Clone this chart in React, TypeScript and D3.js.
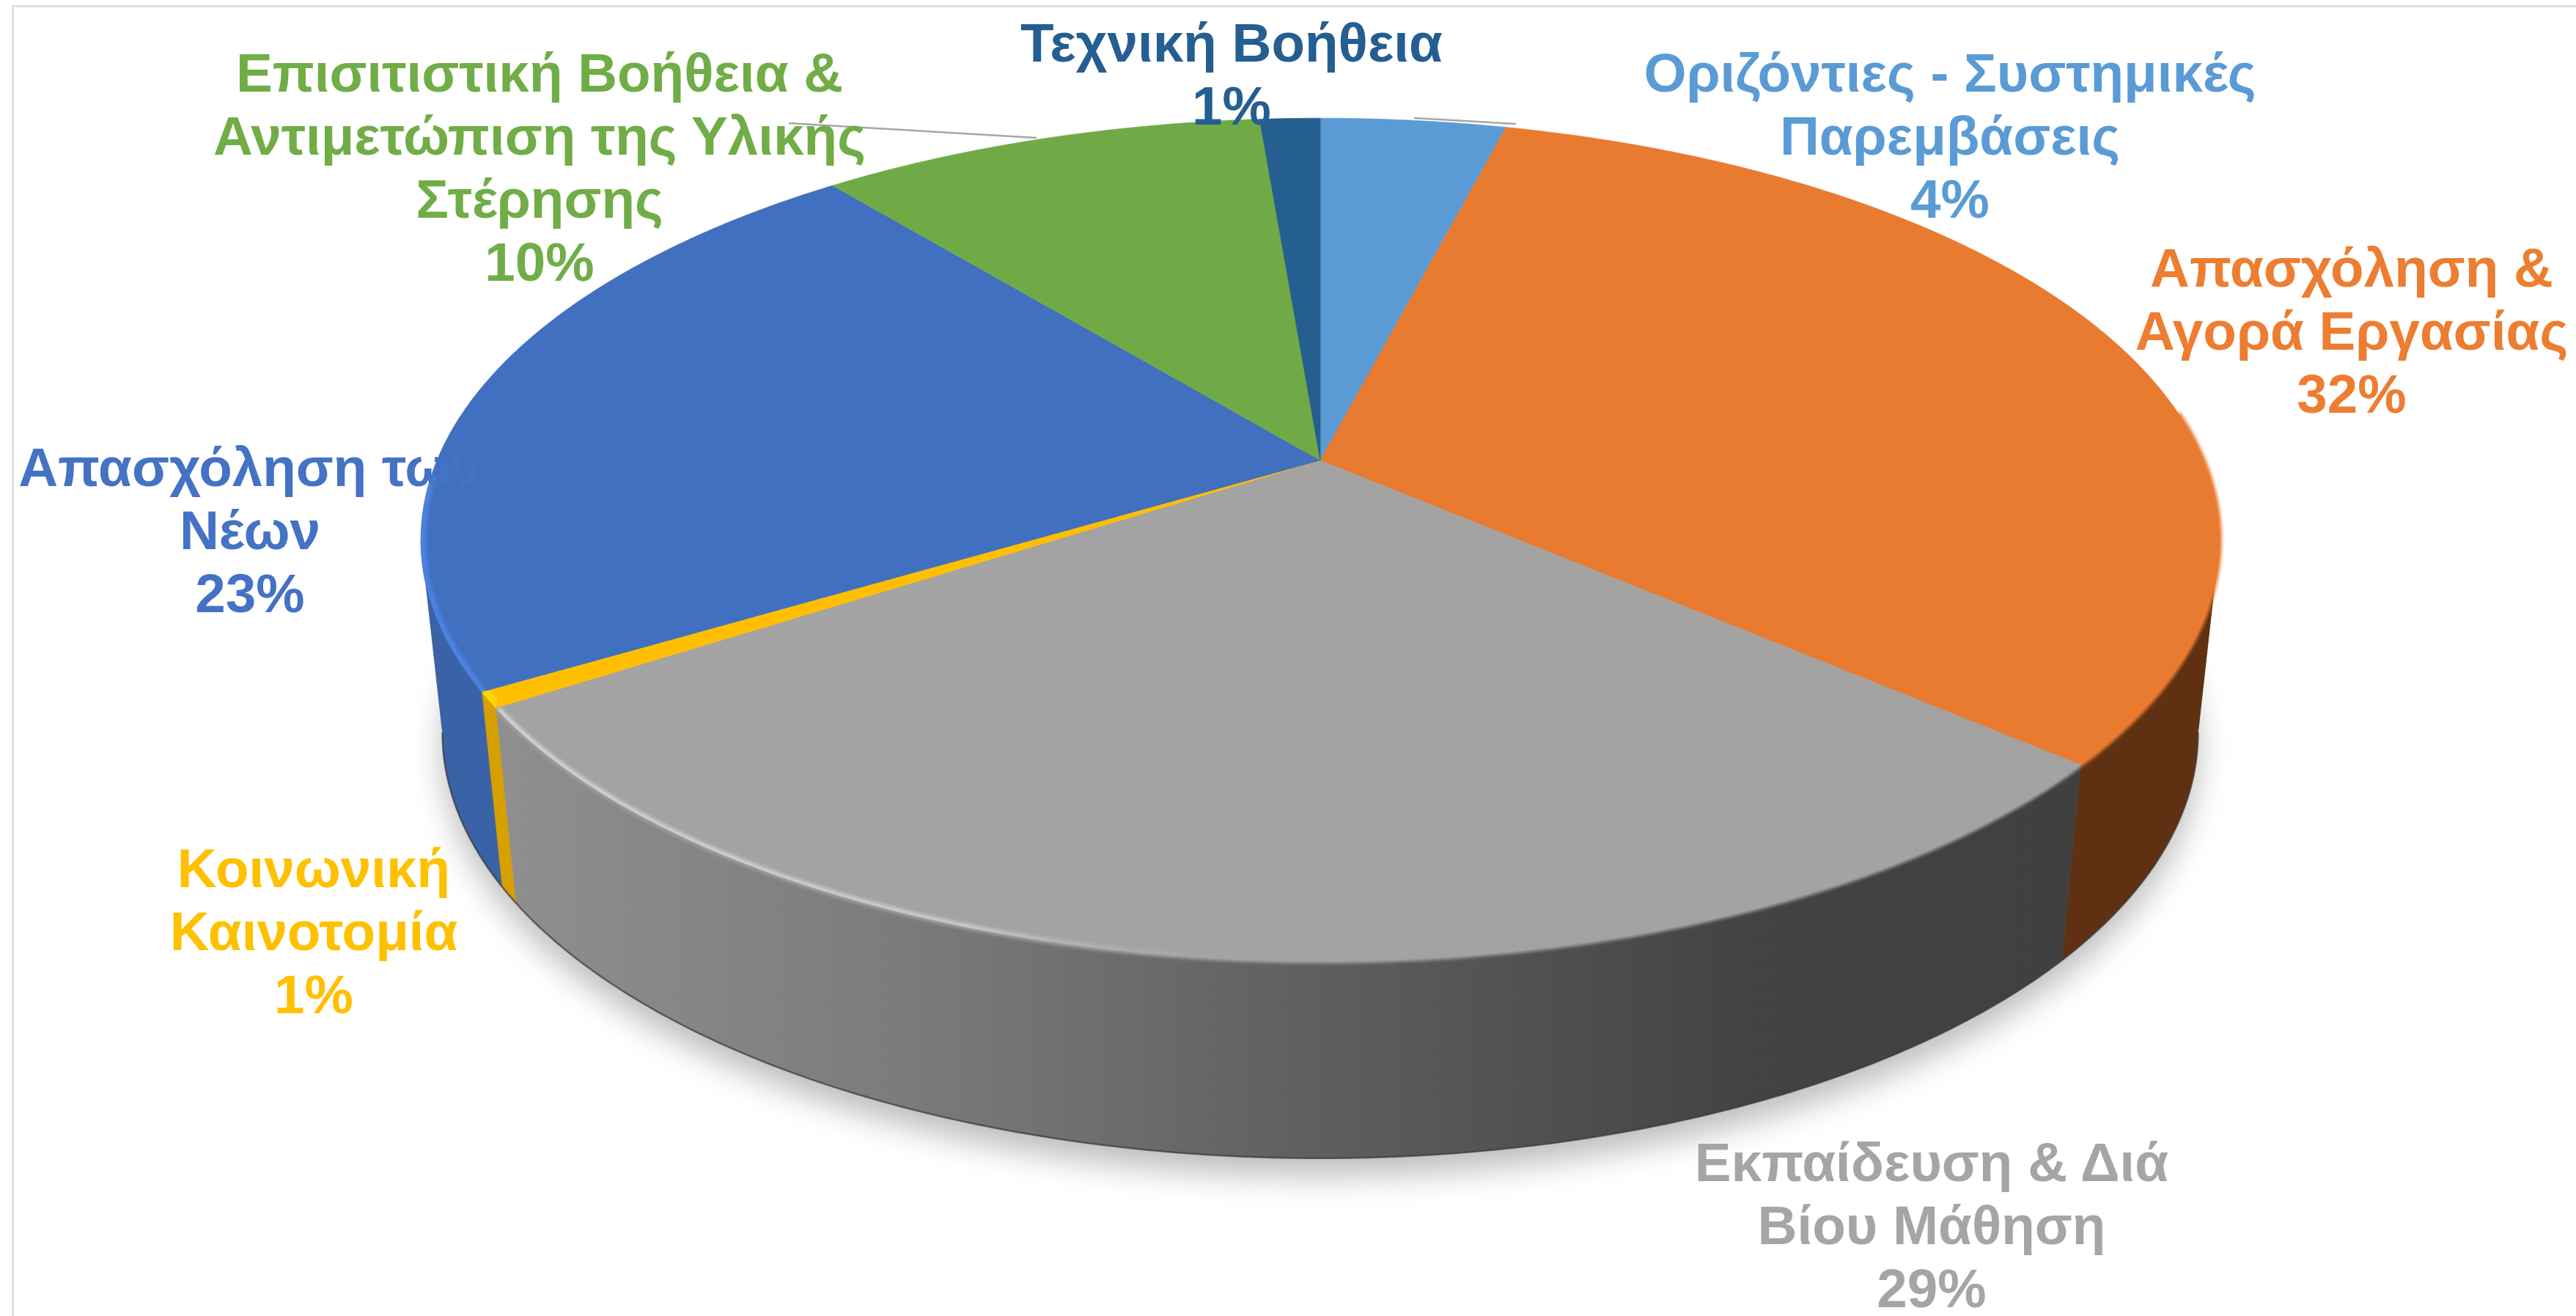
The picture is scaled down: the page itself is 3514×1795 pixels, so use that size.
import React from "react";
import * as d3 from "d3";

const W = 3514;
const H = 1795;

const categories = [
  ["Οριζόντιες - Συστημικές", "Παρεμβάσεις"],
  ["Απασχόληση &", "Αγορά Εργασίας"],
  ["Εκπαίδευση & Διά", "Βίου Μάθηση"],
  ["Κοινωνική", "Καινοτομία"],
  ["Απασχόληση των", "Νέων"],
  ["Επισιτιστική Βοήθεια &", "Αντιμετώπιση της Υλικής", "Στέρησης"],
  ["Τεχνική Βοήθεια"],
];
const values = [4.0, 32.4, 29.4, 0.6, 22.7, 9.6, 1.3];
const shownPercents = ["4%", "32%", "29%", "1%", "23%", "10%", "1%"];
const topColors = ["#5B9BD5", "#E97B31", "#A3A3A3", "#FFBF00", "#4070BF", "#70AA47", "#255E91"];
const textColors = ["#5B9BD5", "#ED7D31", "#A5A5A5", "#FFC000", "#4472C4", "#70AD47", "#255E91"];
const wallColors = ["#5B9BD5", "#5F3112", "url(#grayWall)", "#D6A000", "#3A62A6", "#70AD47", "#255E91"];
const labelAnchors: [number, number][] = [
  [2660, 125],
  [3208, 391],
  [2635, 1611],
  [428, 1210],
  [341, 663],
  [736, 125],
  [1680, 84],
];

// Perspective of the pie plane
const CX = 1801;
const CY = 628;
const A = 1205;
const B = 554.6;
const K = 0.188;
const project = (theta: number): [number, number] => {
  const u = Math.sin(theta);
  const v = -Math.cos(theta);
  const w = 1 - K * v;
  return [CX + (A * u) / w, CY + (B * v) / w];
};
const lower = ([x, y]: [number, number]): [number, number] => [
  CX + (x - CX) * 0.976,
  CY + (y - CY) * 1.01 + 262,
];

const line = d3.line<[number, number]>().x((d) => d[0]).y((d) => d[1]);
const arcPoints = (a0: number, a1: number) => {
  const n = Math.max(2, Math.ceil(Math.abs(a1 - a0) / 0.01));
  return d3.range(n + 1).map((i) => project(a0 + ((a1 - a0) * i) / n));
};

const arcs = d3.pie<number>().sort(null).startAngle(0).endAngle(2 * Math.PI)(values);
// Angles of the widest points of the rim: the wall's silhouette runs between them
const EXTREME = Math.acos(-K);
const VIS0 = EXTREME;
const VIS1 = 2 * Math.PI - EXTREME;

const slicePath = (a0: number, a1: number) =>
  (line([[CX, CY], ...arcPoints(a0, a1)]) ?? "") + "Z";
const wallPath = (a0: number, a1: number) => {
  const top = arcPoints(a0, a1);
  const bottom = top.map(lower).reverse();
  return (line([...top, ...bottom]) ?? "") + "Z";
};

const orangeArc = arcs[1];
const grayArc = arcs[2];
const yellowArc = arcs[3];
const blueArc = arcs[4];
const fullTop = arcPoints(0, 2 * Math.PI);
const shadowPath = (line(fullTop.map(lower)) ?? "") + "Z";
const topPath = (line(fullTop) ?? "") + "Z";
const bottomEdge = line(arcPoints(VIS0, VIS1).map(lower)) ?? "";

const FONT_SIZE = 74.6;
const LINE_STEP = 86;

export default function App() {
  return (
    <svg
      width={W}
      height={H}
      viewBox={`0 0 ${W} ${H}`}
      style={{ position: "absolute", left: 0, top: 0, background: "#fff" }}
    >
      <defs>
        <linearGradient id="grayWall" gradientUnits="userSpaceOnUse" x1={680} x2={2806} y1={0} y2={0}>
          <stop offset="0" stopColor="#8F8F8F" />
          <stop offset="0.25" stopColor="#7C7C7C" />
          <stop offset="0.55" stopColor="#5C5C5C" />
          <stop offset="0.8" stopColor="#434343" />
          <stop offset="1" stopColor="#404040" />
        </linearGradient>
        <linearGradient id="bevel" gradientUnits="userSpaceOnUse" x1={680} x2={1750} y1={0} y2={0}>
          <stop offset="0" stopColor="#D8D8D8" stopOpacity="0.9" />
          <stop offset="0.6" stopColor="#D8D8D8" stopOpacity="0.7" />
          <stop offset="1" stopColor="#A5A5A5" stopOpacity="0" />
        </linearGradient>
        <filter id="soft" x="-10%" y="-10%" width="120%" height="120%">
          <feGaussianBlur stdDeviation="22" />
        </filter>
        <filter id="edge" x="-5%" y="-5%" width="110%" height="110%">
          <feGaussianBlur stdDeviation="2" />
        </filter>
        <clipPath id="face">
          <path d={topPath} />
        </clipPath>
      </defs>

      <rect x={0} y={0} width={W} height={H} fill="#FFFFFF" />
      <path d={`M17.5 ${H}V8.5H${W}`} fill="none" stroke="#E0E0E0" strokeWidth={3} />

      <path d={shadowPath} fill="#000" opacity={0.26} filter="url(#soft)" transform="translate(0,24)" />

      {/* tangents closing the wall between the two rims */}
      <path
        d={(line([project(VIS0), lower(project(VIS0)), project(VIS0 + 0.2)]) ?? "") + "Z"}
        fill={wallColors[1]}
      />
      <path
        d={(line([project(VIS1), lower(project(VIS1)), project(VIS1 - 0.2)]) ?? "") + "Z"}
        fill={wallColors[4]}
      />
      {arcs.map((a, i) => {
        const s = Math.max(a.startAngle, VIS0);
        const e = Math.min(a.endAngle, VIS1);
        if (e <= s) return null;
        return <path key={i} d={wallPath(s, e)} fill={wallColors[i]} stroke={wallColors[i]} strokeWidth={0.6} />;
      })}
      <path d={bottomEdge} fill="none" stroke="#3C3C3C" strokeWidth={2.5} opacity={0.7} />

      <line x1={1076} y1={168} x2={1414} y2={188} stroke="#A6A6A6" strokeWidth={2.5} />
      <line x1={1929} y1={161} x2={2068} y2={169} stroke="#A6A6A6" strokeWidth={2.5} />

      {arcs.map((a, i) => (
        <path key={i} d={slicePath(a.startAngle, a.endAngle)} fill={topColors[i]} stroke={topColors[i]} strokeWidth={0.6} />
      ))}

      {/* soft bevel along the front rim */}
      <path
        d={line(arcPoints(orangeArc.startAngle + 1.2, orangeArc.endAngle)) ?? ""}
        fill="none"
        stroke={topColors[1]}
        strokeWidth={6}
        filter="url(#edge)"
      />
      <path
        d={line(arcPoints(grayArc.startAngle, grayArc.endAngle)) ?? ""}
        fill="none"
        stroke={topColors[2]}
        strokeWidth={6}
        filter="url(#edge)"
      />
      <g clipPath="url(#face)">
        <path
          d={line(arcPoints(grayArc.endAngle - 0.004, grayArc.startAngle + 0.9)) ?? ""}
          fill="none"
          stroke="url(#bevel)"
          strokeWidth={10}
          filter="url(#edge)"
        />
        <path
          d={line(arcPoints(yellowArc.startAngle, yellowArc.endAngle)) ?? ""}
          fill="none"
          stroke="#FFD800"
          strokeWidth={20}
          filter="url(#edge)"
        />
        <path
          d={line(arcPoints(blueArc.startAngle, VIS1 + 0.15)) ?? ""}
          fill="none"
          stroke="#4C82E0"
          strokeWidth={14}
          filter="url(#edge)"
        />
      </g>

      {categories.map((lines, i) => {
        const [x, y] = labelAnchors[i];
        return (
          <text
            key={i}
            x={x}
            y={y}
            textAnchor="middle"
            fontFamily="'Liberation Sans', Arial, sans-serif"
            fontWeight="bold"
            fontSize={FONT_SIZE}
            fill={textColors[i]}
          >
            {[...lines, shownPercents[i]].map((t, j) => (
              <tspan key={j} x={x} y={y + j * LINE_STEP}>
                {t}
              </tspan>
            ))}
          </text>
        );
      })}
    </svg>
  );
}
